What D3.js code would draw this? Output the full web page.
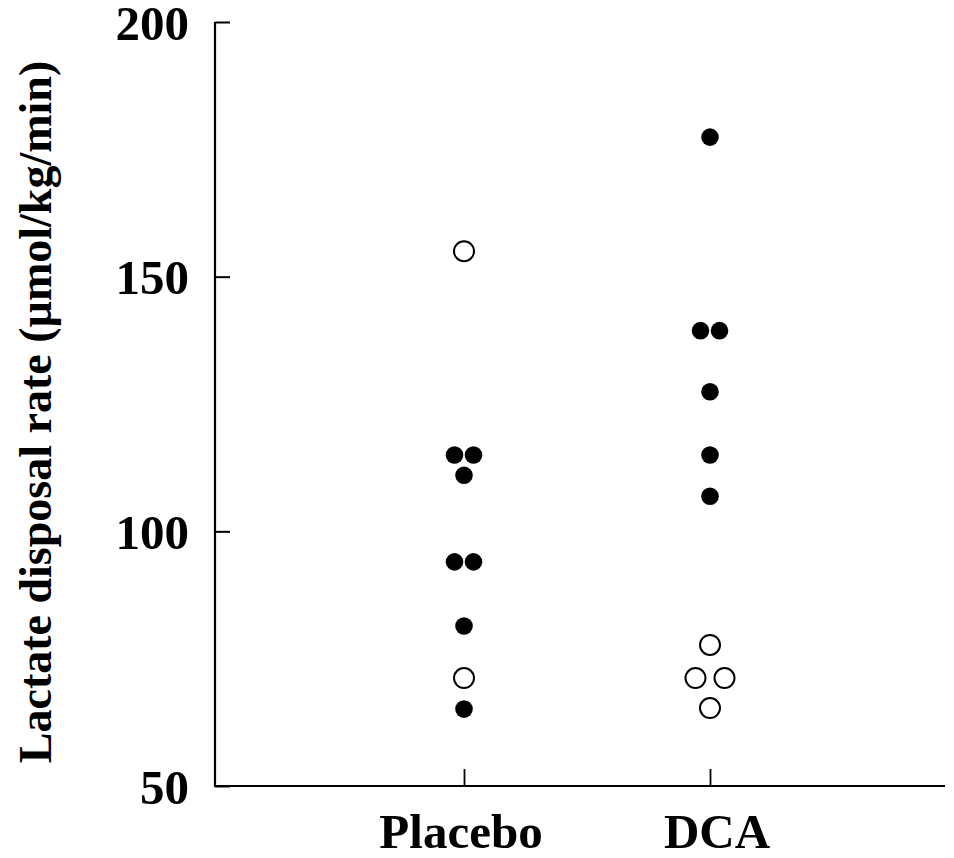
<!DOCTYPE html>
<html>
<head>
<meta charset="utf-8">
<script src="https://cdn.jsdelivr.net/npm/d3@7"></script>
<style>
  html, body { margin: 0; padding: 0; background: #fff; }
  svg { display: block; }
  text { font-family: "Liberation Serif", "Times New Roman", serif; font-weight: bold; fill: #000; }
</style>
</head>
<body>
<svg id="chart" width="954" height="858"></svg>
<script>
// Groups on the x axis
const groups = ["Placebo", "DCA"];

// Lactate disposal rate (µmol/kg/min), filled and open symbols per group
const placeboFilled = [115, 115, 111, 94, 94, 81.4, 65.1];
const placeboOpen = [155, 71.2];
const dcaFilled = [177.4, 139.4, 139.4, 127.4, 115, 106.9];
const dcaOpen = [77.7, 71.2, 71.2, 65.3];

// Y axis tick values
const yTicks = [50, 100, 150, 200];

const svg = d3.select("#chart");
const plotLeft = 215, plotRight = 945, plotTop = 22, plotBottom = 786;

const y = d3.scaleLinear().domain([50, 200]).range([plotBottom, plotTop]);
const x = d3.scalePoint().domain(groups).range([464, 710]);

// Assemble points; points sharing a value within a group sit side by side
const series = [
  { group: "Placebo", open: false, values: placeboFilled },
  { group: "Placebo", open: true, values: placeboOpen },
  { group: "DCA", open: false, values: dcaFilled },
  { group: "DCA", open: true, values: dcaOpen }
];
const points = [];
series.forEach(s => {
  const counts = d3.rollup(s.values, v => v.length, v => v);
  const seen = new Map();
  s.values.forEach(v => {
    const n = counts.get(v);
    const i = seen.get(v) || 0;
    seen.set(v, i + 1);
    const gap = s.open ? 29 : 19;
    const dx = (i - (n - 1) / 2) * gap;
    points.push({ group: s.group, open: s.open, value: v, dx });
  });
});

// Axes
svg.append("line")
  .attr("x1", plotLeft).attr("x2", plotLeft).attr("y1", plotTop).attr("y2", plotBottom)
  .attr("stroke", "#000").attr("stroke-width", 2.2);
svg.append("line")
  .attr("x1", plotLeft - 1).attr("x2", plotRight).attr("y1", plotBottom).attr("y2", plotBottom)
  .attr("stroke", "#000").attr("stroke-width", 2.2);

const yAxis = svg.append("g")
  .attr("transform", `translate(${plotLeft},0)`)
  .call(d3.axisRight(y).tickValues(yTicks).tickSize(15).tickFormat(""));
yAxis.select(".domain").remove();
yAxis.selectAll(".tick line").attr("stroke", "#000").attr("stroke-width", 2);

svg.append("g").selectAll("text")
  .data(yTicks)
  .join("text")
  .attr("x", 189)
  .attr("y", d => y(d))
  .attr("dy", "0.36em")
  .attr("text-anchor", "end")
  .attr("font-size", 49)
  .text(d => d);

const xAxis = svg.append("g")
  .attr("transform", `translate(0,${plotBottom})`)
  .call(d3.axisTop(x).tickSize(17).tickFormat(""));
xAxis.select(".domain").remove();
xAxis.selectAll(".tick line").attr("stroke", "#000").attr("stroke-width", 1.8);

svg.append("g").selectAll("text")
  .data(groups)
  .join("text")
  .attr("x", d => x(d) + (d === "DCA" ? 7 : -3))
  .attr("y", 848)
  .attr("text-anchor", "middle")
  .attr("font-size", 49)
  .text(d => d);

// Y axis title
svg.append("text")
  .attr("transform", "translate(51,412) rotate(-90)")
  .attr("text-anchor", "middle")
  .attr("font-size", 46)
  .text("Lactate disposal rate (µmol/kg/min)");

// Markers
svg.append("g").selectAll("circle")
  .data(points)
  .join("circle")
  .attr("cx", d => x(d.group) + d.dx)
  .attr("cy", d => y(d.value))
  .attr("r", d => d.open ? 10 : 8.8)
  .attr("fill", d => d.open ? "#fff" : "#000")
  .attr("stroke", "#000")
  .attr("stroke-width", d => d.open ? 2 : 0);
</script>
</body>
</html>
